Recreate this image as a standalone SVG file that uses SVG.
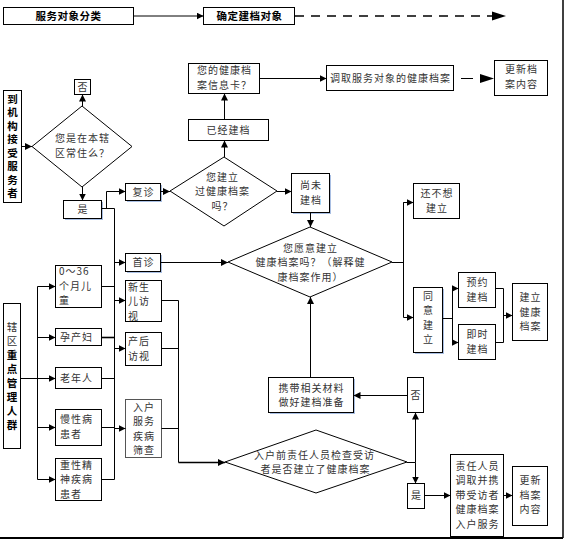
<svg xmlns="http://www.w3.org/2000/svg" width="566" height="540" viewBox="0 0 566 540">
<style>
.bx{fill:#fff;stroke:#000;stroke-width:1}
.dm{fill:#fff;stroke:#000;stroke-width:1}
.sh{fill:#a9bfe3;stroke:none}
.t{font-family:"Noto Sans CJK SC","Noto Sans",sans-serif;font-size:10px;letter-spacing:1px;fill:#333}
.c{text-anchor:middle}
.b{font-weight:bold;fill:#000}
.v{writing-mode:vertical-rl;text-orientation:upright;text-anchor:middle}
.ln{fill:none;stroke:#000;stroke-width:1}
.lnk{fill:none;stroke:#000;stroke-width:1.6}
.ar{marker-end:url(#ah)}
</style>
<defs>
<marker id="ah" markerUnits="userSpaceOnUse" markerWidth="8" markerHeight="7" refX="7" refY="3.5" orient="auto">
<path d="M0,0 L7,3.5 L0,7 z" fill="#000"/>
</marker>
</defs>
<rect width="566" height="540" fill="#fff"/>

<g id="frame">
<line x1="563" y1="0" x2="563" y2="538" stroke="#000" stroke-width="1.5"/>
<line x1="0" y1="538" x2="563" y2="538" stroke="#000" stroke-width="2"/>
</g>

<g id="hdr1"><rect class="bx" x="3.5" y="7.5" width="130" height="17"/><text class="t c b" x="68.5" y="19.5" style="font-size:10.5px;letter-spacing:0.5px">服务对象分类</text></g>
<g id="hdr2"><rect class="bx" x="203.5" y="7.5" width="91" height="17"/><text class="t c b" x="249.5" y="19.5" style="font-size:10.5px;letter-spacing:0.5px">确定建档对象</text></g>

<g id="arrive"><rect class="bx" x="3.5" y="90.5" width="18" height="112"/>
<text class="t b v" x="12.5" y="147.5" style="font-size:10.5px;letter-spacing:3px">到机构接受服务者</text></g>

<g id="q-resident"><polygon class="dm" points="82,106 132,146.5 82,187 32,146.5"/>
<text class="t c"><tspan x="82.5" y="141.5">您是在本辖</tspan><tspan x="82.5" y="156.5">区常住么？</tspan></text></g>

<g id="no1"><rect class="bx" x="74.5" y="79.5" width="16" height="15"/><text class="t c" x="83" y="90.5">否</text></g>
<g id="yes1"><rect class="sh" x="65" y="202" width="38" height="18"/><rect class="bx" x="63.5" y="200.5" width="38" height="18"/><text class="t c" x="83" y="213">是</text></g>

<g id="revisit"><rect class="sh" x="127" y="185" width="35" height="17"/><rect class="bx" x="125.5" y="183.5" width="35" height="17"/><text class="t c" x="143.5" y="195.5">复诊</text></g>
<g id="firstvisit"><rect class="sh" x="127" y="255" width="35" height="18"/><rect class="bx" x="125.5" y="253.5" width="35" height="18"/><text class="t c" x="143.5" y="266">首诊</text></g>

<g id="q-built"><polygon class="dm" points="224,157 277,191 224,226 170,191"/>
<text class="t c"><tspan x="222.5" y="180.5">您建立</tspan><tspan x="222.5" y="195">过健康档案</tspan><tspan x="222.5" y="209.5">吗？</tspan></text></g>

<g id="built"><rect class="bx" x="188.5" y="119.5" width="80" height="21"/><text class="t c" x="228.5" y="133.5">已经建档</text></g>
<g id="card"><rect class="bx" x="188.5" y="63.5" width="71" height="30"/>
<text class="t c"><tspan x="224.5" y="74">您的健康档</tspan><tspan x="224.5" y="88.5">案信息卡？</tspan></text></g>
<g id="fetch"><rect class="bx" x="326.5" y="65.5" width="127" height="25"/><text class="t c" x="390.5" y="82">调取服务对象的健康档案</text></g>
<g id="update1"><rect class="bx" x="494.5" y="60.5" width="53" height="35"/>
<text class="t c"><tspan x="521.5" y="73">更新档</tspan><tspan x="521.5" y="87.5">案内容</tspan></text></g>

<g id="notbuilt"><rect class="sh" x="293" y="175" width="38" height="39"/><rect class="bx" x="291.5" y="173.5" width="38" height="39"/>
<text class="t c"><tspan x="311" y="189">尚未</tspan><tspan x="311" y="203.5">建档</tspan></text></g>

<g id="q-willing"><polygon class="dm" points="310,227 392,262 310,297 228,262"/>
<text class="t c"><tspan x="310.5" y="251.5">您愿意建立</tspan><tspan x="310.5" y="266">健康档案吗？（解释健</tspan><tspan x="310.5" y="280.5">康档案作用）</tspan></text></g>

<g id="notyet"><rect class="bx" x="413.5" y="183.5" width="46" height="35"/>
<text class="t c"><tspan x="437" y="197">还不想</tspan><tspan x="437" y="211.5">建立</tspan></text></g>
<g id="agree"><rect class="sh" x="415" y="289" width="29" height="65"/><rect class="bx" x="413.5" y="287.5" width="29" height="65"/>
<text class="t v" x="428" y="320" style="letter-spacing:4.5px">同意建立</text></g>
<g id="appoint"><rect class="bx" x="458.5" y="272.5" width="37" height="35"/>
<text class="t c"><tspan x="477.5" y="286">预约</tspan><tspan x="477.5" y="300.5">建档</tspan></text></g>
<g id="instant"><rect class="bx" x="458.5" y="324.5" width="37" height="35"/>
<text class="t c"><tspan x="477.5" y="338">即时</tspan><tspan x="477.5" y="352.5">建档</tspan></text></g>
<g id="establish"><rect class="bx" x="512.5" y="283.5" width="35" height="57"/>
<text class="t c"><tspan x="530.5" y="301">建立</tspan><tspan x="530.5" y="315.5">健康</tspan><tspan x="530.5" y="330">档案</tspan></text></g>

<g id="prepare"><rect class="sh" x="270" y="379" width="85" height="35"/><rect class="bx" x="268.5" y="377.5" width="85" height="35"/>
<text class="t c"><tspan x="311.5" y="391.5">携带相关材料</tspan><tspan x="311.5" y="406">做好建档准备</tspan></text></g>
<g id="no2"><rect class="bx" x="407.5" y="377.5" width="16" height="35"/><text class="t c" x="416" y="398.5">否</text></g>
<g id="q-home"><polygon class="dm" points="316,430 407,462 316,493 225,462"/>
<text class="t c"><tspan x="314.5" y="458.5">入户前责任人员检查受访</tspan><tspan x="315.5" y="473">者是否建立了健康档案</tspan></text></g>
<g id="yes2"><rect class="bx" x="407.5" y="483.5" width="17" height="25"/><text class="t c" x="416.5" y="499">是</text></g>
<g id="carry"><rect class="bx" x="450.5" y="454.5" width="53" height="82"/>
<text class="t c"><tspan x="477.5" y="469.5">责任人员</tspan><tspan x="477.5" y="484">调取并携</tspan><tspan x="477.5" y="498.5">带受访者</tspan><tspan x="477.5" y="513">健康档案</tspan><tspan x="477.5" y="527.5">入户服务</tspan></text></g>
<g id="update2"><rect class="bx" x="512.5" y="466.5" width="35" height="59"/>
<text class="t c"><tspan x="530.5" y="484">更新</tspan><tspan x="530.5" y="498.5">档案</tspan><tspan x="530.5" y="513">内容</tspan></text></g>

<g id="region"><rect class="bx" x="3.5" y="303.5" width="17" height="145"/>
<text class="t v" x="12" y="377.5" style="font-size:10.5px;letter-spacing:3.5px">辖区<tspan class="b">重点管理人群</tspan></text></g>
<g id="child"><rect class="bx" x="55.5" y="265.5" width="46" height="42"/>
<text class="t"><tspan x="59" y="275">0～36</tspan><tspan x="59" y="289.5">个月儿</tspan><tspan x="59" y="304">童</tspan></text></g>
<g id="pregnant"><rect class="bx" x="55.5" y="328.5" width="46" height="17"/><text class="t" x="60" y="340.5">孕产妇</text></g>
<g id="elderly"><rect class="bx" x="55.5" y="367.5" width="46" height="21"/><text class="t" x="60" y="381.5">老年人</text></g>
<g id="chronic"><rect class="bx" x="55.5" y="409.5" width="46" height="36"/>
<text class="t"><tspan x="60" y="423">慢性病</tspan><tspan x="60" y="437.5">患者</tspan></text></g>
<g id="mental"><rect class="bx" x="55.5" y="458.5" width="46" height="42"/>
<text class="t"><tspan x="60" y="468.5">重性精</tspan><tspan x="60" y="483">神疾病</tspan><tspan x="60" y="497.5">患者</tspan></text></g>

<g id="newborn"><rect class="bx" x="125.5" y="280.5" width="36" height="41"/>
<text class="t"><tspan x="128" y="290.5">新生</tspan><tspan x="128" y="305">儿访</tspan><tspan x="128" y="319.5">视</tspan></text></g>
<g id="postpartum"><rect class="bx" x="125.5" y="332.5" width="36" height="33"/>
<text class="t"><tspan x="128" y="345">产后</tspan><tspan x="128" y="359.5">访视</tspan></text></g>
<g id="screening"><rect class="bx" x="125.5" y="399.5" width="36" height="58" style="stroke:#555"/>
<text class="t c"><tspan x="144" y="410.5">入户</tspan><tspan x="144" y="425">服务</tspan><tspan x="144" y="439.5">疾病</tspan><tspan x="144" y="454">筛查</tspan></text></g>

<g id="connectors">
<line class="ln ar" x1="133.5" y1="16" x2="203.5" y2="16"/>
<line x1="295" y1="16" x2="493" y2="16" stroke="#000" stroke-width="1.3" stroke-dasharray="9,7"/>
<polygon points="492,11.5 506,16 492,20.5" fill="#000"/>

<line class="ln ar" x1="21.5" y1="146.5" x2="32" y2="146.5"/>
<line class="ln ar" x1="82.5" y1="106" x2="82.5" y2="94.5"/>
<line class="ln ar" x1="82.5" y1="187" x2="82.5" y2="200.5"/>
<polyline class="ln ar" points="101.5,208.5 106.5,208.5 106.5,191.5 125.5,191.5"/>
<line class="ln ar" x1="160.5" y1="191.5" x2="170" y2="191.5"/>
<line class="ln ar" x1="224.5" y1="157" x2="224.5" y2="140.5"/>
<line class="ln ar" x1="224.5" y1="119.5" x2="224.5" y2="93.5"/>
<line class="ln ar" x1="259.5" y1="78.5" x2="326.5" y2="78.5"/>
<line class="ln" x1="461" y1="78.5" x2="473" y2="78.5" stroke-width="1.3"/>
<polygon points="480,74 494,78.5 480,83" fill="#000"/>
<line class="ln ar" x1="277" y1="191.5" x2="291.5" y2="191.5"/>
<line class="ln ar" x1="310.5" y1="212.5" x2="310.5" y2="227"/>
<line class="ln ar" x1="160.5" y1="262.5" x2="228" y2="262.5"/>
<polyline class="ln" points="392,262.5 403.5,262.5"/>
<polyline class="ln ar" points="413.5,202.5 403.5,202.5 403.5,317.5 413.5,317.5"/>
<line class="ln ar" x1="403.5" y1="202.5" x2="413.5" y2="202.5"/>
<polyline class="ln" points="442.5,318.5 452.5,318.5"/>
<polyline class="ln ar" points="458.5,288.5 452.5,288.5 452.5,342.5 458.5,342.5"/>
<line class="ln ar" x1="452.5" y1="288.5" x2="458.5" y2="288.5"/>
<polyline class="ln" points="495.5,288.5 503.5,288.5 503.5,342.5 495.5,342.5"/>
<line class="ln ar" x1="503.5" y1="315.5" x2="512.5" y2="315.5"/>

<line class="ln" x1="20.5" y1="378.5" x2="37.5" y2="378.5"/>
<line class="ln" x1="37.5" y1="286.5" x2="37.5" y2="479.5"/>
<line class="ln ar" x1="37.5" y1="286.5" x2="55.5" y2="286.5"/>
<line class="ln ar" x1="37.5" y1="337.5" x2="55.5" y2="337.5"/>
<line class="ln ar" x1="37.5" y1="378.5" x2="55.5" y2="378.5"/>
<line class="ln ar" x1="37.5" y1="427.5" x2="55.5" y2="427.5"/>
<line class="ln ar" x1="37.5" y1="479.5" x2="55.5" y2="479.5"/>

<polyline class="ln" points="101.5,208.5 114.5,208.5 114.5,479.5"/>
<line class="ln" x1="101.5" y1="286.5" x2="114.5" y2="286.5"/>
<line class="lnk" x1="101.5" y1="337.5" x2="114.5" y2="337.5"/>
<line class="ln" x1="101.5" y1="378.5" x2="114.5" y2="378.5"/>
<line class="ln" x1="101.5" y1="427.5" x2="114.5" y2="427.5"/>
<line class="ln" x1="101.5" y1="479.5" x2="114.5" y2="479.5"/>
<line class="ln ar" x1="114.5" y1="262.5" x2="125.5" y2="262.5"/>
<line class="ln ar" x1="114.5" y1="300.5" x2="125.5" y2="300.5"/>
<line class="ln ar" x1="114.5" y1="348.5" x2="125.5" y2="348.5"/>
<line class="ln ar" x1="114.5" y1="428.5" x2="125.5" y2="428.5"/>

<line class="ln" x1="161.5" y1="300.5" x2="178.5" y2="300.5"/>
<line class="ln" x1="161.5" y1="348.5" x2="178.5" y2="348.5"/>
<line class="ln" x1="161.5" y1="428.5" x2="178.5" y2="428.5" stroke="#555"/>
<line class="ln" x1="178.5" y1="300.5" x2="178.5" y2="462.5"/>
<polyline class="lnk ar" points="178.5,462.5 225,462.5"/>

<line class="ln ar" x1="310.5" y1="377.5" x2="310.5" y2="297"/>
<line class="ln ar" x1="407.5" y1="395.5" x2="353.5" y2="395.5"/>
<line class="ln" x1="407" y1="462.5" x2="415.5" y2="462.5"/>
<line class="ln ar" x1="415.5" y1="462.5" x2="415.5" y2="412.5"/>
<line class="ln ar" x1="415.5" y1="462.5" x2="415.5" y2="483.5"/>
<line class="ln ar" x1="424.5" y1="495.5" x2="450.5" y2="495.5"/>
<line class="ln ar" x1="503.5" y1="495.5" x2="512.5" y2="495.5"/>
</g>
</svg>
